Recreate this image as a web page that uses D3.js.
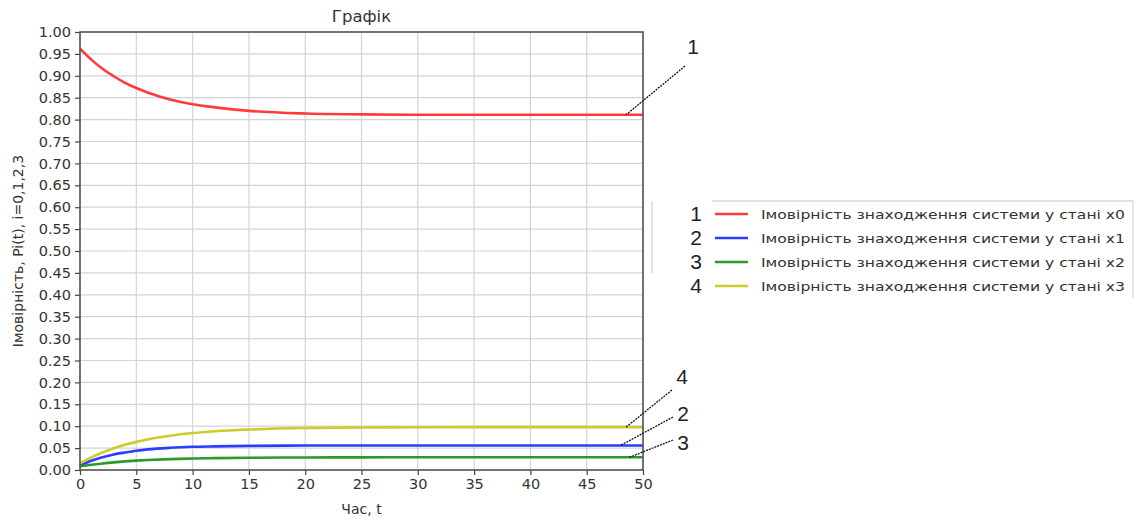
<!DOCTYPE html>
<html>
<head>
<meta charset="utf-8">
<script src="https://cdn.jsdelivr.net/npm/d3@7"></script>
<style>
  body { margin: 0; background: #fff; }
  svg { display: block; font-family: "DejaVu Sans", sans-serif; }
</style>
</head>
<body>
<figure id="chart" style="margin:0"></figure>
<script>
// values
const times = [0, 1, 2, 3, 4, 5, 6, 8, 10, 12, 15, 20, 25, 30, 40, 50];
const p0 = [0.962, 0.937, 0.916, 0.899, 0.884, 0.872, 0.862, 0.846, 0.835, 0.828, 0.820, 0.814, 0.812, 0.811, 0.811, 0.811];
const p1 = [0.010, 0.021, 0.029, 0.0355, 0.040, 0.044, 0.047, 0.0507, 0.053, 0.054, 0.055, 0.0558, 0.056, 0.056, 0.056, 0.056];
const p2 = [0.008, 0.0118, 0.0149, 0.0175, 0.0196, 0.0213, 0.0227, 0.0248, 0.0262, 0.0271, 0.028, 0.0286, 0.0289, 0.029, 0.029, 0.029];
const p3 = [0.015, 0.0287, 0.040, 0.0496, 0.0576, 0.0642, 0.0698, 0.0783, 0.0843, 0.0885, 0.0924, 0.0958, 0.0971, 0.0976, 0.098, 0.098];

const seriesNames = [
  "Імовірність знаходження системи у стані x0",
  "Імовірність знаходження системи у стані x1",
  "Імовірність знаходження системи у стані x2",
  "Імовірність знаходження системи у стані x3"
];
const seriesColors = ["#ff3a3a", "#2a3cff", "#2a9a2a", "#cccc2a"];
const legendNumbers = ["1", "2", "3", "4"];
// which series each callout on the right edge points to, and its label
const calloutSeries = [0, 3, 1, 2];
const calloutLabels = ["1", "4", "2", "3"];

const xTicks = d3.range(0, 51, 5);
const yTicks = d3.range(0, 21).map(i => i * 0.05);

const width = 1139, height = 521;
const margin = { left: 80, top: 32, right: 496, bottom: 51 };
const plotW = width - margin.left - margin.right;
const plotH = height - margin.top - margin.bottom;

const svg = d3.select("#chart").append("svg")
  .attr("width", width)
  .attr("height", height);

const x = d3.scaleLinear().domain([0, 50]).range([margin.left, margin.left + plotW]);
const y = d3.scaleLinear().domain([0, 1]).range([margin.top + plotH, margin.top]);

// grid
svg.append("g")
  .selectAll("line.vg")
  .data(xTicks)
  .enter().append("line")
  .attr("x1", d => x(d)).attr("x2", d => x(d))
  .attr("y1", y(0)).attr("y2", y(1))
  .attr("stroke", "#d4d4d4").attr("stroke-width", 1.2);
svg.append("g")
  .selectAll("line.hg")
  .data(yTicks)
  .enter().append("line")
  .attr("x1", x(0)).attr("x2", x(50))
  .attr("y1", d => y(d)).attr("y2", d => y(d))
  .attr("stroke", "#d4d4d4").attr("stroke-width", 1.2);

// series
const allSeries = [p0, p1, p2, p3];
const line = d3.line()
  .x((d, i) => x(times[i]))
  .y(d => y(d))
  .curve(d3.curveMonotoneX);

svg.append("g")
  .attr("clip-path", null)
  .selectAll("path")
  .data(allSeries)
  .enter().append("path")
  .attr("d", d => line(d))
  .attr("fill", "none")
  .attr("stroke", (d, i) => seriesColors[i])
  .attr("stroke-width", 2.6);

// axes
const xAxis = svg.append("g")
  .attr("transform", "translate(0," + y(0) + ")")
  .call(d3.axisBottom(x).tickValues(xTicks).tickSize(5).tickPadding(4).tickFormat(d3.format("d")));
const yAxis = svg.append("g")
  .attr("transform", "translate(" + x(0) + ",0)")
  .call(d3.axisLeft(y).tickValues(yTicks).tickSize(5).tickPadding(4).tickFormat(d3.format(".2f")));

[xAxis, yAxis].forEach(a => {
  a.select(".domain").remove();
  a.selectAll(".tick line").attr("stroke", "#444").attr("stroke-width", 1.2);
  a.selectAll("text")
    .attr("fill", "#333")
    .style("font-family", "DejaVu Sans")
    .style("font-size", "14.5px");
});

// frame
svg.append("rect")
  .attr("x", x(0)).attr("y", y(1))
  .attr("width", plotW).attr("height", plotH)
  .attr("fill", "none")
  .attr("stroke", "#555")
  .attr("stroke-width", 1.6);

// titles
svg.append("text")
  .attr("x", margin.left + plotW / 2).attr("y", 22)
  .attr("text-anchor", "middle")
  .attr("fill", "#333")
  .style("font-size", "16.5px")
  .text("Графік");
svg.append("text")
  .attr("x", margin.left + plotW / 2).attr("y", 514)
  .attr("text-anchor", "middle")
  .attr("fill", "#333")
  .style("font-size", "14px")
  .text("Час, t");
svg.append("text")
  .attr("transform", "translate(23," + (margin.top + plotH / 2) + ")rotate(-90)")
  .attr("text-anchor", "middle")
  .attr("fill", "#333")
  .style("font-size", "14px")
  .text("Імовірність, Pi(t), i=0,1,2,3");

// legend
const legX = 652, legY = 201, legW = 481, legH = 97, rowH = 24;
const legend = svg.append("g");
legend.append("path")
  .attr("d", `M${legX},${legY} V${legY + 72} M${legX + 60},${legY} H${legX + legW} V${legY + legH}`)
  .attr("fill", "none")
  .attr("stroke", "#d8d8d8")
  .attr("stroke-width", 1.3);

const rows = legend.selectAll("g.row")
  .data(seriesNames)
  .enter().append("g")
  .attr("transform", (d, i) => "translate(0," + (legY + 13 + i * rowH) + ")");
rows.append("line")
  .attr("x1", 715).attr("x2", 748)
  .attr("y1", 0).attr("y2", 0)
  .attr("stroke", (d, i) => seriesColors[i])
  .attr("stroke-width", 2.4);
rows.append("text")
  .attr("x", 761).attr("y", 5)
  .attr("fill", "#333")
  .attr("textLength", 364)
  .attr("lengthAdjust", "spacingAndGlyphs")
  .style("font-size", "13px")
  .text(d => d);
rows.append("text")
  .attr("x", 696).attr("y", 7)
  .attr("text-anchor", "middle")
  .attr("fill", "#222")
  .style("font-family", "Liberation Sans, sans-serif")
  .style("font-size", "21px")
  .text((d, i) => legendNumbers[i]);

// callouts at the right end of the curves
const calloutLabelPos = [[693, 47], [682, 377], [683, 414], [683, 443]];
const calloutStart = [[685, 66], [672, 390], [673, 417], [673, 440]];
const calloutEndT = [48.5, 48.5, 48, 48.8];
const callouts = svg.append("g");
calloutSeries.forEach((s, i) => {
  const vals = allSeries[s];
  callouts.append("line")
    .attr("x1", calloutStart[i][0]).attr("y1", calloutStart[i][1])
    .attr("x2", x(calloutEndT[i])).attr("y2", y(vals[vals.length - 1]))
    .attr("stroke", "#111")
    .attr("stroke-width", 1.3)
    .attr("stroke-dasharray", "2,1");
  callouts.append("text")
    .attr("x", calloutLabelPos[i][0]).attr("y", calloutLabelPos[i][1] + 7)
    .attr("text-anchor", "middle")
    .attr("fill", "#222")
    .style("font-family", "Liberation Sans, sans-serif")
    .style("font-size", "21px")
    .text(calloutLabels[i]);
});
</script>
</body>
</html>
